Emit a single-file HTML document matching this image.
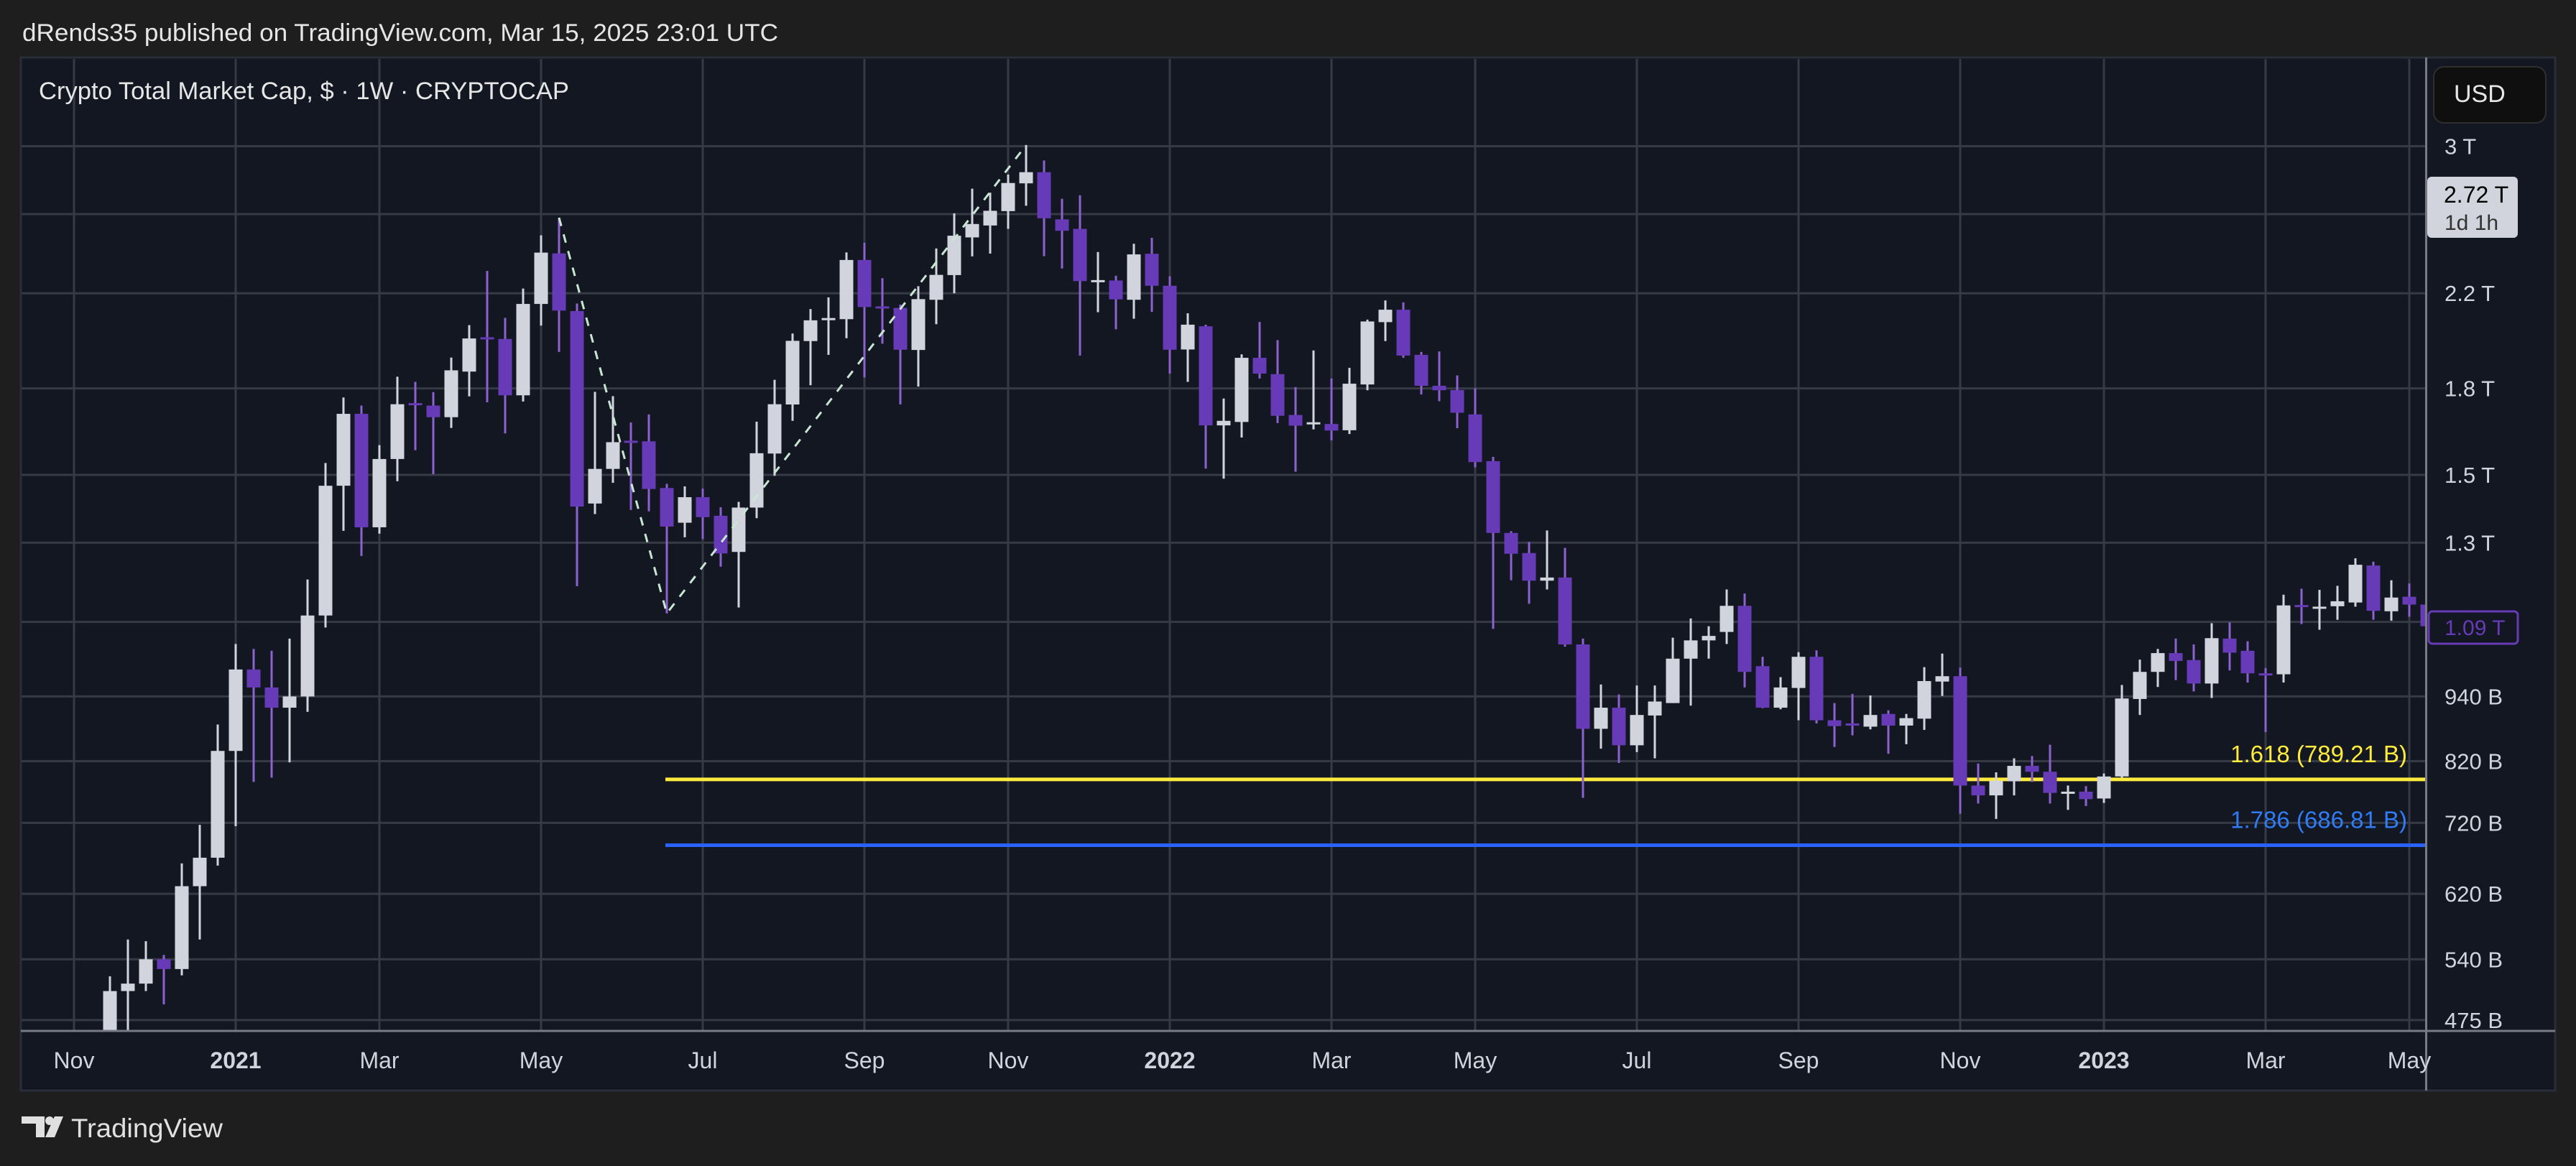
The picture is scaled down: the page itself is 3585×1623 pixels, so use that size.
<!DOCTYPE html>
<html><head><meta charset="utf-8"><style>
html,body{margin:0;padding:0;background:#1e1e1e;}
svg{display:block;font-family:"Liberation Sans",sans-serif;}
</style></head><body>
<svg id="chart" width="3585" height="1623" viewBox="0 0 3585 1623" xmlns="http://www.w3.org/2000/svg">
<defs><clipPath id="plotClip"><rect x="30" y="82" width="3346" height="1352"/></clipPath></defs>
<rect x="0" y="0" width="3585" height="1623" fill="#1e1e1e"/>
<text x="31" y="57" font-size="34" fill="#e6e6e6" textLength="1052" lengthAdjust="spacingAndGlyphs">dRends35 published on TradingView.com, Mar 15, 2025 23:01 UTC</text>
<rect x="29" y="80" width="3527" height="1438" fill="#131722" stroke="#2a2e39" stroke-width="3"/>
<g id="grid"></g>
<g id="fib"></g>
<g id="candles" clip-path="url(#plotClip)"></g>
<g id="drawing"></g>
<text x="54" y="138" font-size="34" fill="#e6e6e6" textLength="738" lengthAdjust="spacingAndGlyphs">Crypto Total Market Cap, $ · 1W · CRYPTOCAP</text>
<line x1="3376.5" y1="80" x2="3376.5" y2="1518" stroke="#787b86" stroke-width="3"/>
<line x1="29" y1="1435" x2="3556" y2="1435" stroke="#787b86" stroke-width="3"/>
<g id="yaxis"></g>
<g id="xaxis"></g>
<rect x="3387" y="93" width="156" height="78" rx="14" fill="#0f0f0f" stroke="#2e2e2e" stroke-width="2"/>
<text x="3415" y="142" font-size="34" fill="#e6e6e6">USD</text>
<rect x="3378" y="246" width="126" height="85" rx="6" fill="#d1d4dc"/>
<text x="3401" y="282" font-size="32" fill="#000">2.72 T</text>
<text x="3402" y="320" font-size="30" fill="#333">1d 1h</text>
<rect x="3380" y="851" width="124" height="45" rx="5" fill="#131722" stroke="#673ab7" stroke-width="3"/>
<text x="3402" y="884" font-size="30" fill="#673ab7">1.09 T</text>
<g>
<path d="M30 1554 H62 V1583 H50 V1564 H30 Z" fill="#e0e0e0"/>
<circle cx="69" cy="1560" r="6" fill="#e0e0e0"/>
<path d="M76 1554 H88 L76 1583 H63 Z" fill="#e0e0e0"/>
<text x="99" y="1583" font-size="37" fill="#e0e0e0" textLength="211" lengthAdjust="spacingAndGlyphs">TradingView</text>
</g>
</svg>
<script>
const opens=[440,440,505,513,540,529,630,669,838,995,958,918,940,1115,1466,1706,1343,1551,1745,1736,1694,1865,2005,1998,1774,2151,2393,2119,1412,1519,1612,1610,1459,1356,1431,1376,1275,1400,1569,1740,1989,2083,2083,2360,2140,2133,1952,2170,2286,2475,2538,2616,2774,2840,2571,2520,2255,2260,2170,2391,2235,1954,2052,1665,1677,1920,1855,1702,1672,1670,1648,1815,2070,2125,1932,1810,1794,1704,1544,1327,1272,1200,1208,1049,878,918,848,903,927,1018,1058,1077,1138,1002,918,957,1022,894,888,882,906,884,897,970,981,779,763,786,812,802,768,769,758,794,935,990,1030,1015,966,1062,1035,987,985,1140,1133,1137,1146,1239,1125,1160,1141];
const closes=[450,505,513,540,529,630,669,838,995,958,918,940,1115,1466,1706,1343,1551,1741,1740,1694,1870,2000,2000,1774,2151,2397,2121,1403,1519,1607,1607,1456,1345,1431,1372,1271,1400,1570,1741,1990,2078,2088,2360,2137,2135,1953,2173,2287,2484,2546,2618,2776,2840,2577,2510,2257,2262,2172,2388,2235,1953,2059,1665,1681,1920,1857,1699,1664,1676,1647,1818,2073,2125,1929,1810,1793,1710,1541,1327,1270,1200,1208,1049,878,918,848,904,930,1018,1058,1068,1138,990,918,958,1022,894,883,885,904,884,898,971,981,779,763,787,812,802,767,769,757,794,936,990,1030,1013,966,1063,1031,987,984,1139,1137,1136,1149,1241,1126,1158,1141,1090];
const highs=[455,521,563,561,545,661,717,886,1050,1039,1035,1062,1203,1538,1766,1736,1597,1845,1825,1786,1921,2057,2306,2089,2222,2486,2580,2153,1787,1771,1675,1704,1472,1464,1457,1401,1417,1678,1833,2021,2128,2181,2398,2447,2271,2148,2233,2418,2604,2743,2720,2826,3007,2911,2685,2705,2400,2283,2442,2473,2280,2109,2059,1762,1934,2071,1993,1805,1950,1838,1880,2081,2167,2158,1944,1946,1850,1801,1558,1332,1302,1334,1286,1062,964,944,962,962,1064,1108,1090,1178,1168,1022,979,1032,1036,927,945,942,913,906,1000,1029,999,816,801,825,829,849,779,778,799,963,1016,1039,1062,1049,1097,1099,1056,998,1165,1180,1177,1187,1258,1249,1201,1193,1150];
const lows=[430,430,454,505,491,522,563,658,715,785,792,818,910,1087,1333,1264,1325,1480,1580,1502,1656,1770,1748,1637,1751,2055,1944,1186,1381,1475,1393,1389,1120,1315,1310,1236,1134,1369,1497,1681,1812,1932,2001,1842,1978,1740,1807,2061,2200,2378,2392,2520,2646,2379,2318,1929,2114,2039,2085,2115,1857,1825,1520,1488,1623,1838,1673,1510,1651,1613,1635,1793,1989,1920,1777,1752,1655,1524,1084,1201,1143,1178,1044,759,842,817,836,825,927,922,1018,1050,958,917,915,894,888,845,866,877,833,850,876,941,734,750,726,763,785,750,740,746,751,792,904,959,973,950,937,993,968,872,968,1095,1082,1105,1136,1105,1103,1112,1085];
const priceTicks=[3000,2200,1800,1500,1300,940,820,720,620,540,475];
const priceTickLabels=["3 T","2.2 T","1.8 T","1.5 T","1.3 T","940 B","820 B","720 B","620 B","540 B","475 B"];
const gridValues=[3000,2600,2200,1800,1500,1300,1100,940,820,720,620,540,475];
const timeTickIndex=[-1,8,16,25,34,43,51,60,69,77,86,95,104,112,121,129];
const timeTickLabels=["Nov","2021","Mar","May","Jul","Sep","Nov","2022","Mar","May","Jul","Sep","Nov","2023","Mar","May"];
const fibLevels=[789.21,686.81];
const fibLabels=["1.618 (789.21 B)","1.786 (686.81 B)"];
const fibColors=["#ffeb3b","#2962ff"];
const fibStartIndex=32;
const pivotIndex=[26,32,52];

const NS="http://www.w3.org/2000/svg";
function yScale(v){return 203.5+Math.log(3000/v)*660;}
function xScale(i){return 128+25*i;}
function mk(tag,attrs,parent){const e=document.createElementNS(NS,tag);for(const k in attrs)e.setAttribute(k,attrs[k]);parent.appendChild(e);return e;}
const grid=document.getElementById('grid');
gridValues.forEach(v=>{const y=yScale(v);
 const l=mk('line',{x1:30,x2:3376,y1:y,y2:y,stroke:'#363a45','stroke-width':3},grid);
 
 });
timeTickIndex.forEach(i=>{const x=xScale(i);
 const l=mk('line',{x1:x,x2:x,y1:82,y2:1434,stroke:'#363a45','stroke-width':3},grid);
 
 });
const ya=document.getElementById('yaxis');
priceTicks.forEach((v,k)=>{const t=mk('text',{x:3402,y:yScale(v)+11,'font-size':31,fill:'#d1d4dc'},ya);t.textContent=priceTickLabels[k];
 
 });
const xa=document.getElementById('xaxis');
timeTickIndex.forEach((i,k)=>{const lab=timeTickLabels[k];const bold=/^\d/.test(lab);
 const t=mk('text',{x:xScale(i),y:1487,'font-size':32,fill:'#d1d4dc','text-anchor':'middle','font-weight':bold?'bold':'normal'},xa);t.textContent=lab;
 
 });
const fib=document.getElementById('fib');
fibLevels.forEach((v,k)=>{const y=yScale(v);
 const l=mk('line',{x1:xScale(fibStartIndex)-2,x2:3375,y1:y,y2:y,stroke:fibColors[k],'stroke-width':5},fib);
 
 
 const t=mk('text',{x:3350,y:y-24,'font-size':33,fill:fibColors[k]==='#2962ff'?'#2f7cf6':fibColors[k],'text-anchor':'end'},fib);t.textContent=fibLabels[k];
 
 });
const cg=document.getElementById('candles');
for(let i=0;i<opens.length;i++){const o=opens[i],c=closes[i],h=highs[i],lo=lows[i];
 const up=c>=o;const col=up?'#d1d4dc':'#673ab7';const wcol=up?'#d1d4dc':'#8c62d0';
 const x=xScale(i);
 const w=mk('rect',{x:x-1.5,y:yScale(h),width:3,height:Math.max(1,yScale(lo)-yScale(h)),fill:wcol},cg);
 
 
 const top=yScale(Math.max(o,c)),bot=yScale(Math.min(o,c));
 const b=mk('rect',{x:x-9.5,y:top,width:19,height:Math.max(3,bot-top),fill:col},cg);
 
 }
const dg=document.getElementById('drawing');
const pts=[[pivotIndex[0],highs[pivotIndex[0]]],[pivotIndex[1],lows[pivotIndex[1]]],[pivotIndex[2],highs[pivotIndex[2]]]];
const pl=mk('polyline',{points:pts.map(p=>xScale(p[0])+','+yScale(p[1])).join(' '),fill:'none',stroke:'#c8e6d2','stroke-width':3,'stroke-dasharray':'12 12'},dg);


</script>
</body></html>
